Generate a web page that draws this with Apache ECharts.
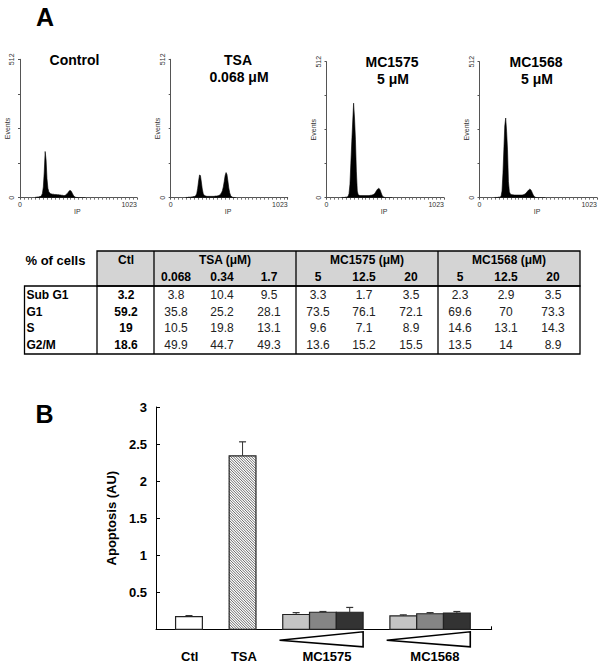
<!DOCTYPE html>
<html><head><meta charset="utf-8">
<script src="https://cdn.jsdelivr.net/npm/echarts@6/dist/echarts.min.js"></script>
<style>html,body{margin:0;padding:0;background:#fff}#c{width:602px;height:667px}</style>
</head><body><div id="c"></div>
<script>
const FONT = '"Liberation Sans", Arial, Helvetica, sans-serif';

// ---------- Panel A: DNA content histograms ----------
const histTitles = [['Control'], ['TSA', '0.068 μM'], ['MC1575', '5 μM'], ['MC1568', '5 μM']];
const histStartChannel = 128;
const histBinWidth = 8;
const histControl = [1,2,2,3,3,4,5,8,16,40,95,171,140,70,35,22,17,15,14,13,13,12,12,12,11,11,11,10,10,9,9,8,8,9,12,15,19,24,27,26,21,14,8,4,2,1,1,0,0,0,0,0,0,0,0,0];
const histTSA = [1,1,1,2,2,2,3,3,4,4,5,8,16,35,62,84,82,58,32,16,9,7,6,5,5,5,5,5,5,5,5,5,6,6,6,7,8,10,13,18,26,40,60,82,93,86,62,36,18,8,4,2,1,1,0,0];
const histMC1575 = [1,1,1,1,2,2,3,5,15,50,130,210,285,356,300,220,100,25,11,9,8,8,8,8,8,8,8,8,8,8,8,9,9,10,11,13,16,21,27,32,35,34,28,18,9,4,2,1,0,0,0,0,0,0,0,0];
const histMC1568 = [1,1,1,1,2,2,3,6,25,90,180,270,300,250,180,60,22,14,12,11,11,10,10,10,10,10,10,10,10,10,10,11,12,14,17,21,25,29,32,31,26,18,10,5,2,1,0,0,0,0,0,0,0,0,0,0];
const histSeries = [histControl, histTSA, histMC1575, histMC1568];
const histXName = 'IP';
const histYName = 'Events';

// ---------- Panel A: cell-cycle table ----------
const tableRowLabels = ['Sub G1', 'G1', 'S', 'G2/M'];
const tableCtl = ['3.2', '59.2', '19', '18.6'];
const tableGroups = ['TSA (μM)', 'MC1575 (μM)', 'MC1568 (μM)'];
const tableDoses = [['0.068', '0.34', '1.7'], ['5', '12.5', '20'], ['5', '12.5', '20']];
const tableTSA = [['3.8', '10.4', '9.5'], ['35.8', '25.2', '28.1'], ['10.5', '19.8', '13.1'], ['49.9', '44.7', '49.3']];
const tableMC1575 = [['3.3', '1.7', '3.5'], ['73.5', '76.1', '72.1'], ['9.6', '7.1', '8.9'], ['13.6', '15.2', '15.5']];
const tableMC1568 = [['2.3', '2.9', '3.5'], ['69.6', '70', '73.3'], ['14.6', '13.1', '14.3'], ['13.5', '14', '8.9']];
const tableGroupValues = [tableTSA, tableMC1575, tableMC1568];

// ---------- Panel B: apoptosis ----------
const barGroups = ['Ctl', 'TSA', 'MC1575', 'MC1568'];
const barGroupSizes = [1, 1, 3, 3];
const apoptosis = [0.17, 2.34, 0.20, 0.23, 0.23, 0.18, 0.21, 0.22];
const apoptosisErr = [0.015, 0.19, 0.025, 0.01, 0.065, 0.015, 0.015, 0.02];
const yTickMax = 3;
const yTickStep = 0.5;

// ---------- layout / style ----------
const histLayout = [
  {left: 20, top: 59.3, width: 117, height: 138.4},
  {left: 170.7, top: 59.3, width: 117, height: 138.4},
  {left: 326.5, top: 61.7, width: 117.5, height: 136},
  {left: 479.5, top: 61.7, width: 117.5, height: 136}
];
const histTitlePos = [[74.5, 60], [238, 60], [392, 62], [536, 62]];
const barFillKinds = ['white', 'hatch', '#c4c4c4', '#858585', '#333333', '#c4c4c4', '#858585', '#333333'];
const groupLabelShift = [0.03, 0.05, 0.15, 0.18];

// bar slot positions built from group structure (one empty slot between groups)
const barSlots = [];
const groupRanges = [];
(function () {
  let s = 0;
  barGroupSizes.forEach(n => {
    groupRanges.push([s, s + n - 1]);
    for (let i = 0; i < n; i++) barSlots.push(s + i);
    s += n + 1;
  });
})();
const slotMin = -1.231, slotMax = 11.30;
const groupLabelPos = groupRanges.map((r, i) => (r[0] + r[1]) / 2 + groupLabelShift[i]);

const chart = echarts.init(document.getElementById('c'), null, {renderer: 'svg', width: 602, height: 667});

const grids = histLayout.map(g => ({left: g.left, top: g.top, width: g.width, height: g.height}));
grids.push({left: 156, top: 407, width: 335.7, height: 222.3});

const axisGray = '#555';
const xAxes = histLayout.map((g, i) => ({
  gridIndex: i, type: 'value', min: 0, max: 1023, interval: 1023,
  axisLine: {onZero: false, lineStyle: {color: axisGray, width: 1}},
  axisTick: {show: true, length: 2, lineStyle: {color: axisGray}},
  minorTick: {show: true, splitNumber: 30, length: 2, lineStyle: {color: '#777'}},
  axisLabel: {fontSize: 7, color: '#333', margin: 3, fontFamily: FONT, alignMaxLabel: 'right',
    formatter: v => String(v)},
  splitLine: {show: false}
}));
const yAxes = histLayout.map((g, i) => ({
  gridIndex: i, type: 'value', min: 0, max: 512, interval: 512,
  axisLine: {show: true, onZero: false, lineStyle: {color: axisGray, width: 1}},
  axisTick: {show: true, length: 2, lineStyle: {color: axisGray}},
  minorTick: {show: true, splitNumber: 4, length: 2, lineStyle: {color: axisGray}},
  axisLabel: {fontSize: 7, color: '#333', margin: 5, rotate: 90, fontFamily: FONT, formatter: v => String(v)},
  splitLine: {show: false}
}));

xAxes.push({
  gridIndex: 4, type: 'value', min: slotMin, max: slotMax,
  axisLine: {onZero: false, lineStyle: {color: '#000', width: 1}},
  axisTick: {show: true, customValues: [slotMax], inside: true, length: 3, lineStyle: {color: '#000'}},
  axisLabel: {
    customValues: groupLabelPos,
    formatter: v => {
      let best = 0;
      groupLabelPos.forEach((p, i) => { if (Math.abs(p - v) < Math.abs(groupLabelPos[best] - v)) best = i; });
      return barGroups[best];
    },
    fontSize: 13, fontWeight: 'bold', color: '#000', margin: 21, fontFamily: FONT
  },
  splitLine: {show: false}
});
yAxes.push({
  gridIndex: 4, type: 'value', min: 0, max: yTickMax, interval: yTickStep,
  name: 'Apoptosis (AU)', nameLocation: 'middle', nameGap: 38, nameRotate: 90,
  nameTextStyle: {fontSize: 13, fontWeight: 'bold', color: '#000', fontFamily: FONT},
  axisLine: {show: true, onZero: false, lineStyle: {color: '#000', width: 1}},
  axisTick: {show: true, inside: true, length: 4, lineStyle: {color: '#000'}},
  axisLabel: {fontSize: 13, fontWeight: 'bold', color: '#000', margin: 9, fontFamily: FONT,
    formatter: v => (v === 0 ? '' : String(v))},
  splitLine: {show: false}
});

const series = histSeries.map((arr, i) => ({
  type: 'line', xAxisIndex: i, yAxisIndex: i, symbol: 'none', silent: true,
  data: arr.map((c, k) => [histStartChannel + k * histBinWidth + histBinWidth / 2, c]),
  lineStyle: {color: '#000', width: 0.6},
  areaStyle: {color: '#000', opacity: 1}
}));

// bars
series.push({
  type: 'custom', xAxisIndex: 4, yAxisIndex: 4,
  data: apoptosis.map((v, i) => [barSlots[i], v]),
  renderItem: (params, api) => {
    const i = params.dataIndex;
    const s = api.value(0), v = api.value(1);
    const a = api.coord([s - 0.5, 0]), b = api.coord([s + 0.5, v]);
    const x0 = a[0], x1 = b[0], y0 = b[1], y1 = a[1];
    const kind = barFillKinds[i];
    const children = [{type: 'rect', shape: {x: x0, y: y0, width: x1 - x0, height: y1 - y0},
      style: {fill: kind === 'hatch' ? '#fff' : kind, stroke: 'none'}}];
    if (kind === 'hatch') {
      for (let k = y0 - x1; k <= y1 - x0; k += 2.6) {
        const lo = Math.max(x0, y0 - k), hi = Math.min(x1, y1 - k);
        if (hi > lo) children.push({type: 'line', shape: {x1: lo, y1: lo + k, x2: hi, y2: hi + k},
          style: {stroke: '#444', lineWidth: 0.8}});
      }
    }
    children.push({type: 'rect', shape: {x: x0, y: y0, width: x1 - x0, height: y1 - y0},
      style: {fill: 'none', stroke: '#222', lineWidth: 1.2}});
    return {type: 'group', children};
  }
});
// error bars
series.push({
  type: 'custom', xAxisIndex: 4, yAxisIndex: 4,
  data: apoptosis.map((v, i) => [barSlots[i], v, apoptosisErr[i]]),
  renderItem: (params, api) => {
    const s = api.value(0), v = api.value(1), e = api.value(2);
    const p = api.coord([s, v]), q = api.coord([s, v + e]);
    return {type: 'group', children: [
      {type: 'line', shape: {x1: p[0], y1: p[1], x2: q[0], y2: q[1]}, style: {stroke: '#333', lineWidth: 1}},
      {type: 'line', shape: {x1: q[0] - 3.5, y1: q[1], x2: q[0] + 3.5, y2: q[1]}, style: {stroke: '#333', lineWidth: 1.2}}
    ]};
  }
});
// dose wedges under multi-dose groups
series.push({
  type: 'custom', xAxisIndex: 4, yAxisIndex: 4, silent: true,
  data: groupRanges.filter(r => r[1] > r[0]),
  renderItem: (params, api) => {
    const f = api.value(0), l = api.value(1);
    const base = api.coord([f, 0])[1];
    const xl = api.coord([f - 0.62, 0])[0], xr = api.coord([l + 0.5, 0])[0];
    return {type: 'polygon', shape: {points: [[xl, base + 11], [xr, base + 2.5], [xr, base + 17.5]]},
      style: {fill: '#fff', stroke: '#000', lineWidth: 1.6}};
  }
});

// ---------- graphic: panel letters, histogram titles, axis names, table ----------
const graphics = [];
function txt(t, x, y, opts) {
  graphics.push({type: 'text', silent: true, style: Object.assign({
    text: t, x: x, y: y, textAlign: 'center', textVerticalAlign: 'middle',
    fill: '#000', font: 'bold 11px ' + FONT}, opts || {})});
}
txt('A', 45, 17, {font: 'bold 25px ' + FONT});
txt('B', 44.5, 414, {font: 'bold 25px ' + FONT});
histTitles.forEach((lines, i) => {
  lines.forEach((l, j) => txt(l, histTitlePos[i][0] + (j ? 1 : 0), histTitlePos[i][1] + j * 17, {font: 'bold 14px ' + FONT}));
});
histLayout.forEach(g => {
  txt(histXName, g.left + g.width * 0.49, g.top + g.height + 14, {font: '7px ' + FONT, fill: '#333'});
  graphics.push({type: 'text', silent: true, x: g.left - 13, y: g.top + g.height * 0.5, rotation: Math.PI / 2,
    style: {text: histYName, x: 0, y: 0, textAlign: 'center', textVerticalAlign: 'middle', fill: '#333', font: '7px ' + FONT}});
});

const T = {left: 24.5, labelRight: 97, ctlRight: 154, groupW: 142, top: 251, headBottom: 286, bottom: 354,
  row1Y: 260, row2Y: 277, rowY: [295, 311.5, 328, 344.5], colOff: [22, 68, 115], ctlX: 126};
const right = T.ctlRight + T.groupW * tableGroups.length;
graphics.push({type: 'rect', silent: true, shape: {x: T.labelRight, y: T.top, width: right - T.labelRight, height: T.headBottom - T.top},
  style: {fill: '#d4d4d4', stroke: '#000', lineWidth: 1.3}});
graphics.push({type: 'rect', silent: true, shape: {x: T.left, y: T.headBottom, width: right - T.left, height: T.bottom - T.headBottom},
  style: {fill: 'none', stroke: '#000', lineWidth: 1.3}});
function vline(x, y1, y2) {
  graphics.push({type: 'line', silent: true, shape: {x1: x, y1: y1, x2: x, y2: y2}, style: {stroke: '#000', lineWidth: 1.3}});
}
vline(T.labelRight, T.headBottom, T.bottom);
for (let g = 0; g < tableGroups.length; g++) vline(T.ctlRight + g * T.groupW, T.top, T.bottom);

txt('% of cells', T.left + 1, T.row1Y, {textAlign: 'left', font: 'bold 13px ' + FONT});
txt('Ctl', T.ctlX, T.row1Y, {font: 'bold 12px ' + FONT});
tableGroups.forEach((g, gi) => {
  const gx = T.ctlRight + gi * T.groupW;
  txt(g, gx + T.groupW / 2, T.row1Y, {font: 'bold 12px ' + FONT});
  tableDoses[gi].forEach((d, di) => txt(d, gx + T.colOff[di], T.row2Y, {font: 'bold 12px ' + FONT}));
});
tableRowLabels.forEach((r, ri) => {
  const y = T.rowY[ri];
  txt(r, T.left + 2, y, {textAlign: 'left', font: 'bold 12px ' + FONT});
  txt(tableCtl[ri], T.ctlX, y, {font: 'bold 12px ' + FONT});
  tableGroupValues.forEach((vals, gi) => {
    const gx = T.ctlRight + gi * T.groupW;
    vals[ri].forEach((v, di) => txt(v, gx + T.colOff[di], y, {font: '12px ' + FONT, fill: '#222'}));
  });
});

chart.setOption({
  backgroundColor: '#fff',
  animation: false,
  grid: grids,
  xAxis: xAxes,
  yAxis: yAxes,
  series: series,
  graphic: {elements: graphics}
});
</script></body></html>
